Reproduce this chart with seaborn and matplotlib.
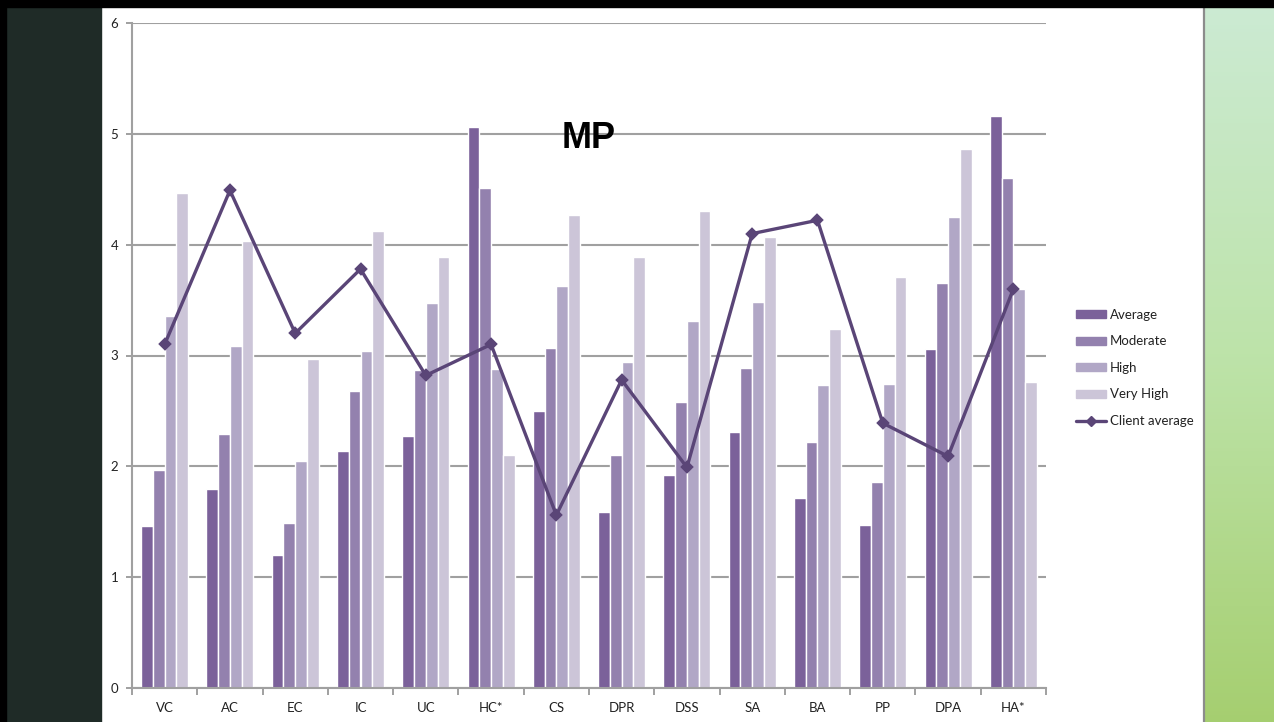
import numpy as np
import pandas as pd
import matplotlib
matplotlib.use("Agg")
import matplotlib.pyplot as plt
import seaborn as sns
from matplotlib.patches import Rectangle
from matplotlib.lines import Line2D

# valeurs
categories = ["VC", "AC", "EC", "IC", "UC", "HC*", "CS", "DPR", "DSS", "SA", "BA", "PP", "DPA", "HA*"]
average = [1.46, 1.80, 1.20, 2.14, 2.27, 5.06, 2.50, 1.59, 1.92, 2.31, 1.71, 1.47, 3.06, 5.16]
moderate = [1.97, 2.29, 1.49, 2.68, 2.87, 4.51, 3.07, 2.10, 2.58, 2.89, 2.22, 1.86, 3.65, 4.60]
high = [3.36, 3.09, 2.05, 3.04, 3.47, 2.88, 3.63, 2.94, 3.31, 3.48, 2.73, 2.74, 4.25, 3.60]
very_high = [4.47, 4.03, 2.97, 4.12, 3.89, 2.10, 4.27, 3.89, 4.30, 4.07, 3.24, 3.71, 4.86, 2.76]
client_average = [3.10, 4.49, 3.20, 3.78, 2.82, 3.10, 1.56, 2.78, 1.99, 4.10, 4.22, 2.39, 2.09, 3.60]

levels = ["Average", "Moderate", "High", "Very High"]
colors = ["#7b619a", "#9381ae", "#b1a7c6", "#ccc5d8"]
line_color = "#5a4577"
grey = "#a0a0a0"

df = pd.DataFrame({
    "category": categories * 4,
    "level": np.repeat(levels, len(categories)),
    "score": average + moderate + high + very_high,
})

sns.set_style("white")
plt.rcParams["font.family"] = ["Lato", "DejaVu Sans"]
plt.rcParams["text.color"] = "#222222"

W, H = 1274, 722
fig = plt.figure(figsize=(W / 100, H / 100), dpi=100)

# décor de la diapositive
fig.add_artist(Rectangle((0, 0), 101 / W, 1, transform=fig.transFigure, color="#1f2b27", zorder=0))
fig.add_artist(Rectangle((0, 0), 6 / W, 1, transform=fig.transFigure, color="#000000", zorder=1))
bg = fig.add_axes([1205 / W, 0, 69 / W, 1])
stops = np.array([[0.80, 0.92, 0.83], [0.74, 0.89, 0.66], [0.65, 0.81, 0.44]])
t = np.linspace(0, 1, 200)
grad = np.stack([np.interp(t, [0, 0.5, 1], stops[:, c]) for c in range(3)], axis=1)
bg.imshow(grad[:, None, :], aspect="auto")
bg.axis("off")
fig.add_artist(Line2D([1204 / W] * 2, [0, 1], transform=fig.transFigure, color="#8c8c8c", lw=1.6, zorder=5))
fig.add_artist(Rectangle((0, 1 - 7 / H), 1, 7 / H, transform=fig.transFigure, color="#000000", zorder=10))

ax = fig.add_axes([132 / W, 34 / H, 914 / W, 665 / H])
sns.barplot(data=df, x="category", y="score", hue="level", order=categories, hue_order=levels,
            palette=colors, width=0.72, gap=0, saturation=1, errorbar=None, legend=False, ax=ax)
sns.pointplot(x=categories, y=client_average, order=categories, color=line_color, markers="D",
              markersize=5.5, linewidth=2.4, errorbar=None, ax=ax)

ax.set_ylim(0, 6)
ax.set_xlim(-0.5, len(categories) - 0.5)
ax.set_yticks(range(7))
ax.yaxis.grid(True, color=grey, lw=1.5)
ax.set_axisbelow(True)
ax.set_xlabel("")
ax.set_ylabel("")
sns.despine(ax=ax)
for s in ["left", "bottom"]:
    ax.spines[s].set_color(grey)
    ax.spines[s].set_linewidth(1.5)

ax.set_xticks(np.arange(-0.5, len(categories), 1), minor=True)
ax.tick_params(axis="x", which="minor", bottom=True, length=5, color=grey, width=1.4)
ax.tick_params(axis="x", which="major", length=0, pad=10, labelsize=9.5, labelcolor="#222222")
ax.tick_params(axis="y", left=True, length=4, color=grey, width=1.4, pad=6, labelsize=9.5, labelcolor="#222222")

ax.text(0.5, 0.827, "MP", transform=ax.transAxes, ha="center", va="center",
        fontsize=26, fontweight="bold", family="Liberation Sans", color="#000000")

handles = [Rectangle((0, 0), 1, 1, color=c) for c in colors]
handles.append(Line2D([], [], color=line_color, lw=2.4, marker="D", markersize=5))
fig.legend(handles, levels + ["Client average"], loc="upper left",
           bbox_to_anchor=(1064 / W, 1 - 297 / H), frameon=False, fontsize=9.5,
           labelspacing=1.1, handlelength=2.3, handleheight=0.55, handletextpad=0.3)

fig.savefig("out.png", dpi=100)
